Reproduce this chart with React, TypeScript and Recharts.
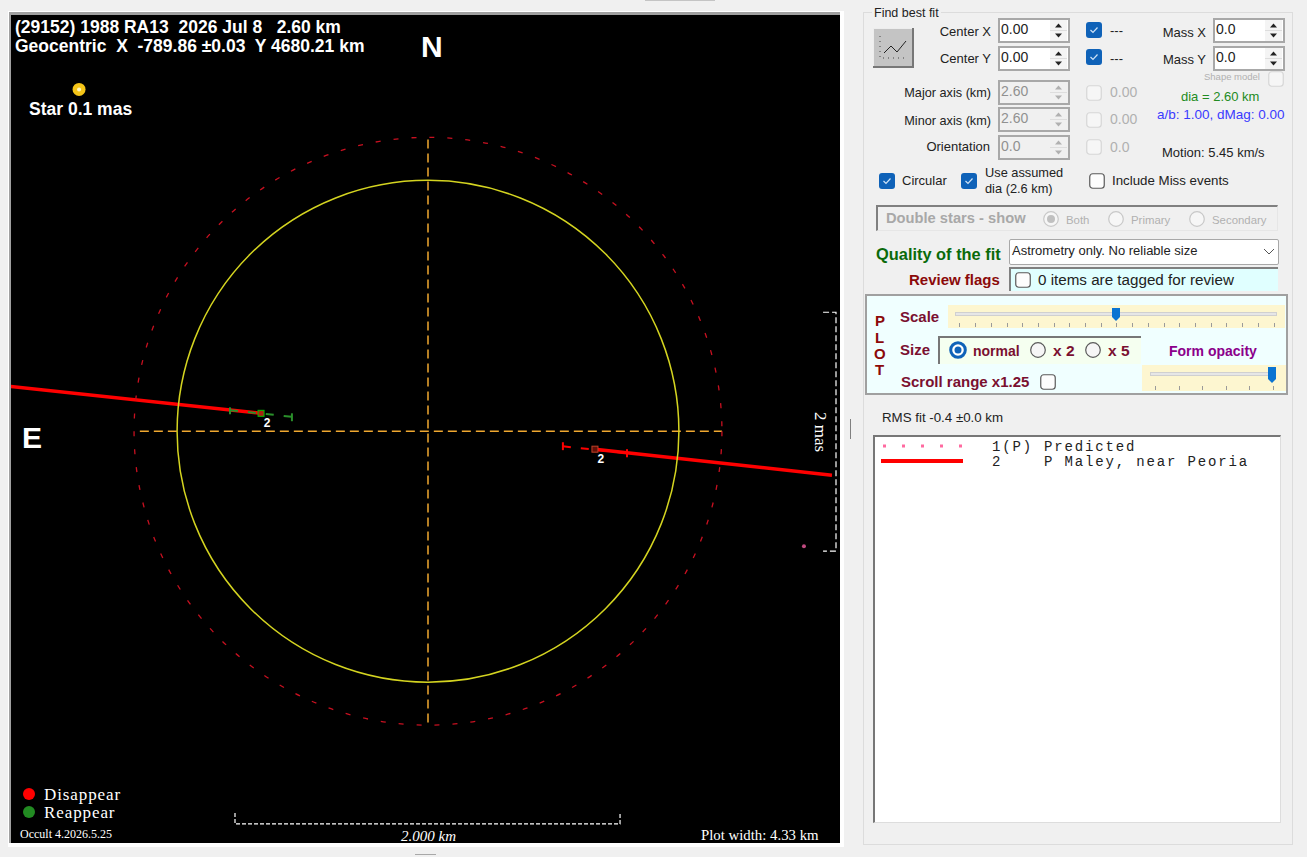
import React from 'react';
import { ComposedChart, Line, Scatter, XAxis, YAxis, ReferenceDot } from 'recharts';

// All chart values are in km on the fundamental plane
const xDomain = [-2.1606, 2.1347];
const yDomain = [-2.1347, 2.158];
const pxPerKm = 193;
const outlineRadiusKm = 1.3;
const predictedRadiusKm = 1.523;

const chordEntry = [{ x: -2.166, y: 0.233 }, { x: -0.865, y: 0.093 }];
const chordExit = [{ x: 0.865, y: -0.093 }, { x: 2.093, y: -0.228 }];
const reappearSpan = [{ x: -1.026, y: 0.109 }, { x: -0.705, y: 0.075 }];
const reappearTickA = [{ x: -1.026, y: 0.124 }, { x: -1.026, y: 0.088 }];
const reappearTickB = [{ x: -0.705, y: 0.093 }, { x: -0.705, y: 0.052 }];
const disappearSpan = [{ x: 0.699, y: -0.078 }, { x: 1.031, y: -0.114 }];
const disappearTickA = [{ x: 0.699, y: -0.057 }, { x: 0.699, y: -0.098 }];
const disappearTickB = [{ x: 1.031, y: -0.093 }, { x: 1.031, y: -0.135 }];
const axisNS = [{ x: 0, y: 1.513 }, { x: 0, y: -1.534 }];
const axisEW = [{ x: -1.493, y: 0 }, { x: 1.523, y: 0 }];
const kmBar = [{ x: -1.0, y: -1.979 }, { x: -1.0, y: -2.036 }, { x: 0.995, y: -2.036 }, { x: 0.995, y: -1.979 }];
const masBar = [{ x: 2.047, y: 0.617 }, { x: 2.114, y: 0.617 }, { x: 2.114, y: -0.622 }, { x: 2.047, y: -0.622 }];
const obsGreen = [{ x: -0.865, y: 0.093, n: '2' }];
const obsRed = [{ x: 0.865, y: -0.093, n: '2' }];
const starPoint = [{ x: -1.808, y: 1.772 }];
const massPoint = [{ x: 1.948, y: -0.596 }];

const titleLines = ['(29152) 1988 RA13  2026 Jul 8   2.60 km', 'Geocentric  X  -789.86 ±0.03  Y 4680.21 km'];
const observers = [['1(P)', 'Predicted'], ['2', 'P Maley, near Peoria']];
const scaleTicks = [959, 975, 991, 1007, 1022, 1038, 1054, 1069, 1085, 1101, 1116, 1132, 1148, 1164, 1179, 1195, 1211, 1226, 1242, 1258, 1274];
const opacityTicks = [1155, 1179, 1202, 1226, 1249, 1273];

const SANS = '"Liberation Sans", Arial, sans-serif';
const SERIF = '"Liberation Serif", serif';
const MONO = '"Liberation Mono", monospace';
const MAROON = '#8b0a0a';

const T = ({ x, y, s, size = 13, color = '#222', bold = false, font = SANS, italic = false, right = false, spacing = 0 }: any) => (
  <div style={{
    position: 'absolute', top: y - 12, height: 24, lineHeight: '24px', whiteSpace: 'pre', letterSpacing: spacing,
    ...(right ? { right: 1307 - x } : { left: x }),
    fontSize: size, color, fontWeight: bold ? 700 : 400, fontFamily: font, fontStyle: italic ? 'italic' : 'normal',
  }}>{s}</div>
);

const Box = ({ x, y, w, h, style }: any) => (
  <div style={{ position: 'absolute', left: x, top: y, width: w, height: h, boxSizing: 'border-box', ...style }} />
);

const Check = ({ x, y, on = false, off = false }: any) => (
  <svg style={{ position: 'absolute', left: x, top: y }} width={16} height={16}>
    {on ? (
      <>
        <rect x={0} y={0} width={16} height={16} rx={3} fill="#0f62b8" />
        <path d="M4.5 8 L7 10.5 L11.5 5.5" fill="none" stroke="#cfe3f7" strokeWidth={1.2} />
      </>
    ) : (
      <rect x={0.75} y={0.75} width={14.5} height={14.5} rx={3} fill={off ? '#f6f6f6' : '#fdfdfd'} stroke={off ? '#d6d6d6' : '#5a5a5a'} strokeWidth={1.2} />
    )}
  </svg>
);

const Radio = ({ cx, cy, on = false, off = false }: any) => (
  <svg style={{ position: 'absolute', left: cx - 9, top: cy - 9 }} width={18} height={18}>
    <circle cx={9} cy={9} r={7.3} fill={on && !off ? '#fff' : '#f6f6f6'} stroke={on && !off ? '#0f62b8' : off ? '#c8c8c8' : '#5a5a5a'} strokeWidth={on && !off ? 3 : 1.2} />
    {on && <circle cx={9} cy={9} r={off ? 4 : 3.5} fill={off ? '#c0c0c0' : '#0f62b8'} />}
  </svg>
);

const Spin = ({ x, y, w, h, s, disabled = false }: any) => (
  <div style={{ position: 'absolute', left: x, top: y, width: w, height: h, boxSizing: 'border-box', border: '2px solid #a8a8a8', background: disabled ? '#f0f0f0' : '#fff' }}>
    <div style={{ position: 'absolute', left: 1, top: 1, lineHeight: `${h - 8}px`, fontSize: 14, fontFamily: SANS, color: disabled ? '#909090' : '#222' }}>{s}</div>
    <svg style={{ position: 'absolute', right: 1, top: 0 }} width={17} height={h - 4}>
      <rect x={0} y={0} width={17} height={h - 4} fill={disabled ? '#f0f0f0' : '#f4f4f4'} />
      <line x1={0} x2={17} y1={(h - 4) / 2} y2={(h - 4) / 2} stroke="#ddd" />
      <path d={`M5 ${(h - 4) / 2 - 3} L8.5 ${(h - 4) / 2 - 7} L12 ${(h - 4) / 2 - 3} Z`} fill={disabled ? '#b0b0b0' : '#222'} />
      <path d={`M5 ${(h - 4) / 2 + 3} L8.5 ${(h - 4) / 2 + 7} L12 ${(h - 4) / 2 + 3} Z`} fill={disabled ? '#b0b0b0' : '#222'} />
    </svg>
  </div>
);

const Thumb = ({ cx, y, h }: any) => (
  <svg style={{ position: 'absolute', left: cx - 5, top: y }} width={10} height={h}>
    <path d={`M1 0 H9 V${h - 4} L5 ${h} L1 ${h - 4} Z`} fill="#0a74d2" />
  </svg>
);

const ObsMark = ({ cx, cy, payload, stroke, fill }: any) => (
  <g>
    <rect x={cx - 3} y={cy - 3} width={6} height={6} fill={fill} stroke={stroke} strokeWidth={1} />
    <text x={cx + 6} y={cy + 14} fill="#fff" fontSize={12} fontWeight={700} fontFamily={SANS} textAnchor="middle">{payload.n}</text>
  </g>
);

const seg = (data: any[], stroke: string, width: number, dash?: string) => (
  <Line data={data} dataKey="y" type="linear" stroke={stroke} strokeWidth={width} strokeDasharray={dash} dot={false} activeDot={false} isAnimationActive={false} legendType="none" />
);

const BlackPlot = () => (
  <ComposedChart width={829} height={828} margin={{ top: 0, right: 0, bottom: 0, left: 0 }} style={{ background: '#000' }}>
    <XAxis dataKey="x" type="number" domain={xDomain} allowDataOverflow hide />
    <YAxis dataKey="y" type="number" domain={yDomain} allowDataOverflow hide />
    <ReferenceDot x={0} y={0} r={predictedRadiusKm * pxPerKm} fill="none" stroke="#c81020" strokeWidth={1.3} strokeDasharray="5 13" ifOverflow="visible" />
    <ReferenceDot x={0} y={0} r={outlineRadiusKm * pxPerKm} fill="none" stroke="#d4d420" strokeWidth={1.5} ifOverflow="visible" />
    {seg(axisNS, '#f0a830', 1.5, '9 5')}
    {seg(axisEW, '#f0a830', 1.5, '9 5')}
    {seg(chordEntry, '#ff0000', 3.5)}
    {seg(chordExit, '#ff0000', 3.5)}
    {seg(reappearSpan, '#2a8f2a', 2, '8 10')}
    {seg(reappearTickA, '#2a8f2a', 2)}
    {seg(reappearTickB, '#2a8f2a', 2)}
    {seg(disappearSpan, '#ff0000', 2, '8 10')}
    {seg(disappearTickA, '#ff0000', 2)}
    {seg(disappearTickB, '#ff0000', 2)}
    {seg(kmBar, '#ffffff', 1.2, '4 2')}
    {seg(masBar, '#ffffff', 1.2, '6 3')}
    <Scatter data={obsGreen} dataKey="y" isAnimationActive={false} shape={(p: any) => <ObsMark {...p} stroke="#00c000" fill="#aa2010" />} />
    <Scatter data={obsRed} dataKey="y" isAnimationActive={false} shape={(p: any) => <ObsMark {...p} stroke="#c04028" fill="#601008" />} />
    <Scatter data={starPoint} dataKey="y" isAnimationActive={false} shape={(p: any) => (
      <g><circle cx={p.cx} cy={p.cy} r={6.5} fill="#f5c518" /><circle cx={p.cx} cy={p.cy} r={2} fill="#fff6c0" /></g>
    )} />
    <Scatter data={massPoint} dataKey="y" isAnimationActive={false} shape={(p: any) => <circle cx={p.cx} cy={p.cy} r={2} fill="#c04a80" />} />
  </ComposedChart>
);

export default function App() {
  return (
    <div style={{ position: 'absolute', left: 0, top: 0, width: 1307, height: 857, background: '#f0f0f0', overflow: 'hidden', fontFamily: SANS }}>
      {/* chart frame */}
      <Box x={645} y={-2} w={70} h={3} style={{ background: '#c4c4c4' }} />
      <Box x={8} y={11} w={836} h={836} style={{ background: '#fff' }} />
      <Box x={9} y={12} w={831} h={3} style={{ background: '#a0a0a0' }} />
      <Box x={9} y={12} w={2} h={831} style={{ background: '#a0a0a0' }} />
      <div style={{ position: 'absolute', left: 11, top: 15 }}><BlackPlot /></div>

      {/* chart text */}
      <T x={15} y={27} s={titleLines[0]} size={17.5} bold color="#fff" />
      <T x={15} y={46} s={titleLines[1]} size={17.5} bold color="#fff" />
      <T x={421} y={47} s="N" size={30} bold color="#fff" />
      <T x={22} y={438} s="E" size={30} bold color="#fff" />
      <T x={29} y={109} s="Star 0.1 mas" size={17.5} bold color="#fff" />
      <svg style={{ position: 'absolute', left: 20, top: 785 }} width={20} height={38}>
        <circle cx={9} cy={9} r={6} fill="#ff0000" />
        <circle cx={9} cy={27} r={6} fill="#228b22" />
      </svg>
      <T x={44} y={795} s="Disappear" size={17} font={SERIF} color="#fff" spacing={0.9} />
      <T x={44} y={813} s="Reappear" size={17} font={SERIF} color="#fff" spacing={0.9} />
      <T x={20} y={834} s="Occult 4.2026.5.25" size={12} font={SERIF} color="#fff" />
      <T x={401} y={836} s="2.000 km" size={15} font={SERIF} italic color="#fff" />
      <T x={701} y={835} s="Plot width: 4.33 km" size={14.8} font={SERIF} color="#fff" />
      <div style={{ position: 'absolute', left: 790, top: 420, width: 60, height: 24, lineHeight: '24px', textAlign: 'center', transform: 'rotate(90deg)', color: '#fff', fontFamily: SERIF, fontSize: 17 }}>2 mas</div>

      {/* splitter marks */}
      <Box x={850} y={419} w={1} h={20} style={{ background: '#808080' }} />
      <Box x={415} y={854} w={21} h={1} style={{ background: '#a8a8a8' }} />

      {/* group box */}
      <Box x={863} y={12} w={430} h={833} style={{ border: '1px solid #dcdcdc' }} />
      <div style={{ position: 'absolute', left: 872, top: 6, height: 15, lineHeight: '15px', background: '#f0f0f0', padding: '0 2px', fontSize: 12.5, fontFamily: SANS, color: '#222' }}>Find best fit</div>

      {/* fit button */}
      <svg style={{ position: 'absolute', left: 873, top: 28 }} width={41} height={40}>
        <rect x={0} y={0} width={41} height={40} fill="#c4c4c4" />
        <path d="M0 40 V0 H41" fill="none" stroke="#ededed" strokeWidth={2} />
        <path d="M0 39 H40 V0" fill="none" stroke="#777" strokeWidth={2} />
        <path d="M7 8 V30 H33" fill="none" stroke="#444" strokeWidth={1} strokeDasharray="1 4" />
        <path d="M11 25 L18 18 L24 24 L33 13" fill="none" stroke="#222" strokeWidth={1} />
      </svg>

      <T x={991} y={32} right s="Center X" />
      <T x={991} y={59} right s="Center Y" />
      <Spin x={998} y={18} w={72} h={25} s="0.00" />
      <Spin x={998} y={46} w={72} h={25} s="0.00" />
      <Check x={1086} y={22} on /><T x={1110} y={31} s="---" />
      <Check x={1086} y={49} on /><T x={1110} y={59} s="---" />
      <T x={1206} y={33} right s="Mass X" />
      <T x={1206} y={60} right s="Mass Y" />
      <Spin x={1213} y={18} w={72} h={25} s="0.0" />
      <Spin x={1213} y={46} w={72} h={25} s="0.0" />
      <T x={1204} y={77} s="Shape model" size={9.5} color="#b0b0b0" />
      <Check x={1268} y={71} off />

      <T x={991} y={93} right s="Major axis (km)" size={12.7} />
      <T x={991} y={121} right s="Minor axis (km)" size={12.7} />
      <T x={990} y={147} right s="Orientation" size={13} />
      <Spin x={998} y={80} w={72} h={25} s="2.60" disabled />
      <Spin x={998} y={107} w={72} h={25} s="2.60" disabled />
      <Spin x={998} y={135} w={72} h={25} s="0.0" disabled />
      <Check x={1086} y={85} off /><T x={1110} y={92} s="0.00" size={14} color="#b0b0b0" />
      <Check x={1086} y={112} off /><T x={1110} y={119} s="0.00" size={14} color="#b0b0b0" />
      <Check x={1086} y={139} off /><T x={1110} y={147} s="0.0" size={14} color="#b0b0b0" />
      <T x={1181} y={97} s="dia = 2.60 km" size={13} color="#228b22" />
      <T x={1157} y={115} s="a/b: 1.00, dMag: 0.00" size={13.5} color="#3a3aff" />
      <T x={1162} y={153} s="Motion: 5.45 km/s" size={13} />

      <Check x={879} y={173} on /><T x={902} y={181} s="Circular" />
      <Check x={961} y={173} on /><T x={985} y={173} s="Use assumed" size={12.8} /><T x={985} y={189} s="dia (2.6 km)" size={12.8} />
      <Check x={1089} y={173} /><T x={1112} y={181} s="Include Miss events" size={13.3} />

      {/* double stars */}
      <Box x={876} y={205} w={402} h={26} style={{ borderTop: '2px solid #808080', borderLeft: '2px solid #808080', borderRight: '1px solid #e6e6e6', borderBottom: '1px solid #e6e6e6' }} />
      <T x={886} y={218} s="Double stars - show" size={14.7} bold color="#a8a8a8" />
      <Radio cx={1051} cy={219} on off /><T x={1066} y={220} s="Both" size={11.4} color="#b0b0b0" />
      <Radio cx={1116} cy={219} off /><T x={1131} y={220} s="Primary" size={11.4} color="#b0b0b0" />
      <Radio cx={1197} cy={219} off /><T x={1212} y={220} s="Secondary" size={11.4} color="#b0b0b0" />

      {/* quality */}
      <T x={876} y={254} s="Quality of the fit" size={16.4} bold color="#0a6a0a" />
      <Box x={1009} y={239} w={270} h={26} style={{ background: '#fff', border: '1.5px solid #a8a8a8', borderRadius: 2 }} />
      <T x={1012} y={251} s="Astrometry only. No reliable size" size={13} />
      <svg style={{ position: 'absolute', left: 1263, top: 247 }} width={12} height={10}>
        <path d="M1 2 L6 7 L11 2" fill="none" stroke="#555" strokeWidth={1} />
      </svg>
      <T x={909} y={280} s="Review flags" size={15} bold color={MAROON} />
      <Box x={1009} y={267} w={269} h={24} style={{ background: '#e0ffff', borderTop: '2px solid #808080', borderLeft: '2px solid #808080' }} />
      <Check x={1015} y={272} />
      <T x={1038} y={280} s="0 items are tagged for review" size={15.2} />

      {/* plot panel */}
      <Box x={865} y={294} w={423} h={101} style={{ background: '#f0ffff', border: '2px solid #a0a0a0' }} />
      <T x={875} y={321} s="P" size={15} bold color={MAROON} />
      <T x={875} y={338} s="L" size={15} bold color={MAROON} />
      <T x={874} y={354} s="O" size={15} bold color={MAROON} />
      <T x={875} y={370} s="T" size={15} bold color={MAROON} />
      <T x={900} y={317} s="Scale" size={15} bold color="#7a1030" />
      <Box x={948} y={305} w={337} h={23} style={{ background: '#fdf6d0' }} />
      <Box x={955} y={312} w={322} h={4} style={{ background: '#e6e6e6', border: '1px solid #d0d0d0' }} />
      {scaleTicks.map((t) => <Box key={t} x={t} y={323} w={1} h={4} style={{ background: '#9a9a9a' }} />)}
      <Thumb cx={1116} y={308} h={13} />
      <T x={900} y={350} s="Size" size={15} bold color="#7a1030" />
      <Box x={938} y={336} w={203} h={28} style={{ background: '#f5fff0', borderTop: '2px solid #777', borderLeft: '2px solid #777' }} />
      <Radio cx={958} cy={350} on /><T x={973} y={351} s="normal" size={14} bold color="#7a1030" />
      <Radio cx={1038} cy={350} /><T x={1053} y={351} s="x 2" size={15.5} bold color="#7a1030" />
      <Radio cx={1093} cy={350} /><T x={1108} y={351} s="x 5" size={15.5} bold color="#7a1030" />
      <T x={1169} y={351} s="Form opacity" size={14} bold color="#8b008b" />
      <Box x={1142} y={365} w={144} h={26} style={{ background: '#fdf6d0' }} />
      <Box x={1150} y={372} w={125} h={4} style={{ background: '#e6e6e6', border: '1px solid #d0d0d0' }} />
      {opacityTicks.map((t) => <Box key={t} x={t} y={386} w={1} h={4} style={{ background: '#9a9a9a' }} />)}
      <Thumb cx={1272} y={367} h={16} />
      <T x={901} y={382} s="Scroll range x1.25" size={15} bold color="#7a1030" />
      <Check x={1040} y={374} />

      <T x={882} y={418} s="RMS fit -0.4 ±0.0 km" size={13.3} />

      {/* observer list */}
      <Box x={873} y={435} w={408} h={388} style={{ background: '#fff', borderTop: '2px solid #777', borderLeft: '2px solid #777', borderRight: '1px solid #ddd', borderBottom: '1px solid #ddd' }} />
      <svg style={{ position: 'absolute', left: 878, top: 440 }} width={90} height={26}>
        <line x1={5} x2={86} y1={6} y2={6} stroke="#ff6aa0" strokeWidth={3} strokeDasharray="3 16" />
        <line x1={3} x2={85} y1={21} y2={21} stroke="#ff0000" strokeWidth={4} />
      </svg>
      <T x={992} y={447} s={observers[0][0]} size={14} font={MONO} spacing={1.85} />
      <T x={1044} y={447} s={observers[0][1]} size={14} font={MONO} spacing={1.85} />
      <T x={992} y={462} s={observers[1][0]} size={14} font={MONO} spacing={1.85} />
      <T x={1044} y={462} s={observers[1][1]} size={14} font={MONO} spacing={1.85} />
    </div>
  );
}
